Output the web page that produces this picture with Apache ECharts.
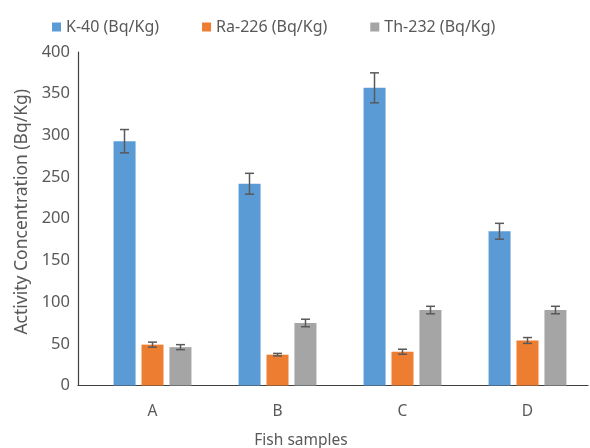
<!DOCTYPE html>
<html>
<head>
<meta charset="utf-8">
<script src="https://cdn.jsdelivr.net/npm/echarts@6/dist/echarts.min.js"></script>
<style>
  html, body { margin: 0; padding: 0; background: #fff; }
  #main { width: 590px; height: 448px; }
</style>
</head>
<body>
<div id="main"></div>
<script>
// fish samples
var categories = ["A", "B", "C", "D"];
var seriesNames = ["K-40 (Bq/Kg)", "Ra-226 (Bq/Kg)", "Th-232 (Bq/Kg)"];
var k40 = [293, 242, 357, 185];
var k40Err = [14, 12.5, 18, 9.5];
var ra226 = [49, 37, 40.5, 54];
var ra226Err = [3, 1.5, 3, 3.5];
var th232 = [46, 75, 90.5, 90.5];
var th232Err = [3, 4.5, 4.5, 4.5];
var yTicks = [0, 50, 100, 150, 200, 250, 300, 350, 400];

var colors = ["#5b9bd5", "#ed7d31", "#a5a5a5"];
var barW = 22;
var barStep = 28; // bar width + gap

var chart = echarts.init(document.getElementById("main"));

function errorSeries(vals, errs, idx) {
  return {
    type: "custom",
    xAxisIndex: 1,
    yAxisIndex: 1,
    z: 10,
    silent: true,
    data: vals.map(function (v, i) { return [i, v - errs[i], v + errs[i]]; }),
    renderItem: function (params, api) {
      var lo = api.coord([api.value(0), api.value(1)]);
      var hi = api.coord([api.value(0), api.value(2)]);
      var x = lo[0] + (idx - 1) * barStep;
      var cap = 4.5;
      var st = { stroke: "#595959", lineWidth: 1.5 };
      return {
        type: "group",
        children: [
          { type: "line", shape: { x1: x, y1: lo[1], x2: x, y2: hi[1] }, style: st },
          { type: "line", shape: { x1: x - cap, y1: hi[1], x2: x + cap, y2: hi[1] }, style: st },
          { type: "line", shape: { x1: x - cap, y1: lo[1], x2: x + cap, y2: lo[1] }, style: st }
        ]
      };
    }
  };
}

var txt = "#595959";
var font = "Noto Sans";

chart.setOption({
  animation: false,
  textStyle: { fontFamily: font },
  legend: {
    top: 14,
    left: 47,
    itemWidth: 9,
    itemHeight: 9,
    itemGap: 43,
    icon: "rect",
    textStyle: { fontSize: 16, color: txt, fontFamily: font },
    data: seriesNames
  },
  grid: [
    { left: 78, right: 2, top: 52, bottom: 62.5, outerBoundsMode: "none", containLabel: false },
    { left: 90, right: 0, top: 52, bottom: 62.5, outerBoundsMode: "none", containLabel: false }
  ],
  xAxis: [
    {
      type: "value",
      gridIndex: 0,
      min: 0,
      max: 1,
      axisLine: { show: true, onZero: false, lineStyle: { color: "#404040", width: 1.2 } },
      axisTick: { show: false },
      axisLabel: { show: false },
      splitLine: { show: false },
      name: "Fish samples",
      nameLocation: "middle",
      nameGap: 47,
      nameTextStyle: { fontSize: 15.5, color: txt, padding: [0, 64, 0, 0] }
    },
    {
      type: "category",
      gridIndex: 1,
      data: categories,
      axisLine: { show: false },
      axisTick: { show: false },
      axisLabel: { fontSize: 15.5, color: txt, margin: 18 }
    }
  ],
  yAxis: [
    {
      type: "value",
      gridIndex: 0,
      min: yTicks[0],
      max: yTicks[yTicks.length - 1],
      interval: yTicks[1] - yTicks[0],
      axisLine: { show: true, lineStyle: { color: "#404040", width: 1.2 } },
      axisTick: { show: false },
      splitLine: { show: false },
      axisLabel: { fontSize: 16.5, color: txt, margin: 8 },
      name: "Activity Concentration (Bq/Kg)",
      nameLocation: "middle",
      nameGap: 46,
      nameTextStyle: { fontSize: 17.5, color: txt, padding: [0, 0, 0, 14] }
    },
    {
      type: "value",
      gridIndex: 1,
      min: yTicks[0],
      max: yTicks[yTicks.length - 1],
      show: false,
      splitLine: { show: false }
    }
  ],
  series: [
    {
      name: seriesNames[0], type: "bar", xAxisIndex: 1, yAxisIndex: 1,
      data: k40, barWidth: barW, barGap: "27%", itemStyle: { color: colors[0] }
    },
    {
      name: seriesNames[1], type: "bar", xAxisIndex: 1, yAxisIndex: 1,
      data: ra226, barWidth: barW, barGap: "27%", itemStyle: { color: colors[1] }
    },
    {
      name: seriesNames[2], type: "bar", xAxisIndex: 1, yAxisIndex: 1,
      data: th232, barWidth: barW, barGap: "27%", itemStyle: { color: colors[2] }
    },
    errorSeries(k40, k40Err, 0),
    errorSeries(ra226, ra226Err, 1),
    errorSeries(th232, th232Err, 2)
  ]
});
</script>
</body>
</html>
